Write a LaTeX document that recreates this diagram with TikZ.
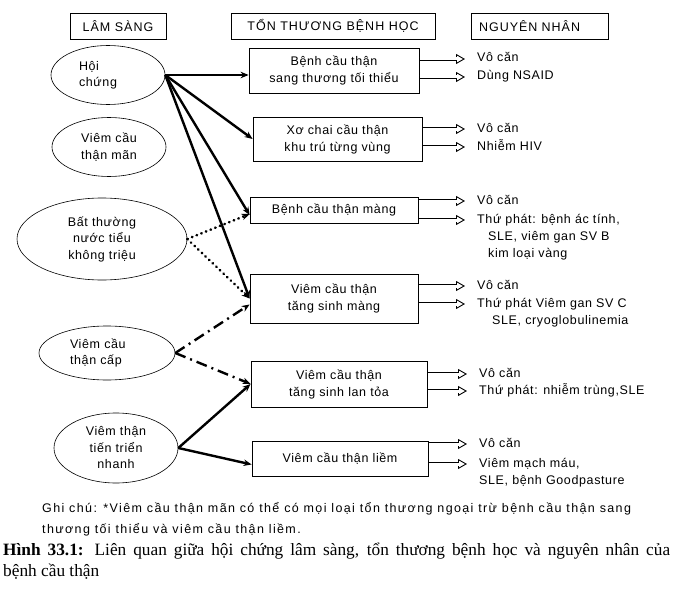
\documentclass[tikz,border=0pt]{standalone}
\usepackage{fontspec}
\setmainfont{Liberation Serif}
\newfontfamily\diagfont{Liberation Sans}[LetterSpace=5]
\newfontfamily\headfont{Liberation Sans}[LetterSpace=8]
\newfontfamily\notefont{Liberation Sans}[LetterSpace=11]
\usetikzlibrary{arrows.meta, positioning, shapes.geometric}

\begin{document}
\begin{tikzpicture}[x=1pt, y=-1pt,
	head/.style={rectangle, draw, line width=0.8pt, minimum height=26pt, inner sep=0pt, font=\headfont\fontsize{12.5}{14}\selectfont},
	syndrome/.style={ellipse, draw, line width=0.6pt, inner sep=0pt, align=center, font=\diagfont\fontsize{12.5}{16.5}\selectfont},
	lesion/.style={rectangle, draw, line width=0.8pt, inner sep=0pt, align=center, font=\diagfont\fontsize{12.5}{17}\selectfont},
	cause/.style={inner sep=0pt, anchor=west, text height=9pt, text depth=3pt, font=\diagfont\fontsize{12.5}{15}\selectfont},
	more/.style={cause, below=5pt of #1.south west, anchor=north west},
	arrow/.style={-{Stealth[length=8pt, width=6.5pt]}, line width=2.4pt},
	dotarrow/.style={arrow, line width=2.6pt, dash pattern=on 0.5pt off 4.5pt, line cap=round},
	dasharrow/.style={arrow, dash pattern=on 11pt off 5pt on 2pt off 5pt},
	hollow/.style={line width=0.9pt, -{Triangle[open, length=9pt, width=10pt]},
		preaction={draw, line width=4.8pt, -, shorten >=9pt},
		postaction={draw=white, line width=3pt, -, shorten >=8.5pt, shorten <=0.5pt}}
]
	\useasboundingbox (0,0) rectangle (675,594);

	\node[head, minimum width=96pt] (hls) at (118,26) {LÂM SÀNG};
	\node[head, minimum width=204pt] (hth) at (333,26) {TỔN THƯƠNG BỆNH HỌC};
	\node[head, minimum width=137pt, text width=121pt, align=left] (hnn) at (539.5,26) {NGUYÊN NHÂN};

	\node[syndrome, minimum width=114pt, minimum height=59pt, text width=58pt, align=left] (e1) at (108,75) {Hội\\chứng};
	\node[syndrome, minimum width=114pt, minimum height=59pt] (e2) at (109,147) {Viêm cầu\\thận mãn};
	\node[syndrome, minimum width=170pt, minimum height=82pt] (e3) at (102,239) {Bất thường\\nước tiểu\\không triệu};
	\node[syndrome, minimum width=136pt, minimum height=54pt, text width=74pt, align=left] (e4) at (107,353) {Viêm cầu\\thận cấp};
	\node[syndrome, minimum width=124pt, minimum height=70pt] (e5) at (116,448) {Viêm thận\\tiến triển\\nhanh};

	\node[lesion, minimum width=170pt, minimum height=45pt] (b1) at (334,70.5) {Bệnh cầu thận\\sang thương tối thiểu};
	\node[lesion, minimum width=169pt, minimum height=44pt] (b2) at (337.5,139) {Xơ chai cầu thận\\khu trú từng vùng};
	\node[lesion, minimum width=168pt, minimum height=26pt] (b3) at (334,210) {Bệnh cầu thận màng};
	\node[lesion, minimum width=168pt, minimum height=49pt] (b4) at (334,298.5) {Viêm cầu thận\\tăng sinh màng};
	\node[lesion, minimum width=176pt, minimum height=46pt] (b5) at (339,384) {Viêm cầu thận\\tăng sinh lan tỏa};
	\node[lesion, minimum width=176pt, minimum height=35pt] (b6) at (340,458.5) {Viêm cầu thận liềm};

	\node[cause] (c11) at (477,59) {Vô căn};
	\node[cause] (c12) at (477,77) {Dùng NSAID};
	\node[cause] (c21) at (477,129) {Vô căn};
	\node[cause] (c22) at (477,147) {Nhiễm HIV};
	\node[cause] (c31) at (477,201) {Vô căn};
	\node[cause] (c32) at (477,220) {Thứ phát: bệnh ác tính,};
	\node[more=c32, xshift=11pt] (c32b) {SLE, viêm gan SV B};
	\node[more=c32b] (c32c) {kim loại vàng};
	\node[cause] (c41) at (477,286) {Vô căn};
	\node[cause] (c42) at (477,304) {Thứ phát Viêm gan SV C};
	\node[more=c42, xshift=15pt] (c42b) {SLE, cryoglobulinemia};
	\node[cause] (c51) at (479,374) {Vô căn};
	\node[cause] (c52) at (479,391) {Thứ phát: nhiễm trùng,SLE};
	\node[cause] (c61) at (479,444) {Vô căn};
	\node[cause] (c62) at (479,464) {Viêm mạch máu,};
	\node[more=c62] (c62b) {SLE, bệnh Goodpasture};

	\draw[arrow] (e1.east) -- (e1.east -| b1.west);
	\draw[arrow] (e1.east) -- (b2.west);
	\draw[arrow] (e1.east) -- ([yshift=-5pt]b3.west);
	\draw[arrow] (e1.east) -- (b4.west);
	\draw[dotarrow] (e3.east) -- ([yshift=-4pt]b3.west);
	\draw[dotarrow] (e3.east) -- (b4.west);
	\draw[dasharrow] (e4.east) -- ([yshift=-6pt]b4.west);
	\draw[dasharrow] (e4.east) -- (b5.west);
	\draw[arrow] (e5.east) -- (b5.west);
	\draw[arrow] (e5.east) -- ([yshift=-6pt]b6.west);

	\foreach \b/\c in {b1/c11, b1/c12, b2/c21, b2/c22, b3/c31, b3/c32, b4/c41, b4/c42, b5/c51, b5/c52, b6/c61, b6/c62}
		\draw[hollow] (\b.east |- \c) -- ([xshift=-12pt]\c.west);

	\node[anchor=west, inner sep=0pt, align=left, font=\notefont\fontsize{12.5}{21}\selectfont] (note) at (42,519) {Ghi chú: *Viêm cầu thận mãn có thể có mọi loại tổn thương ngoại trừ bệnh cầu thận sang\\thương tối thiểu và viêm cầu thận liềm.};
	\node[anchor=north west, inner sep=0pt, text width=667pt, align=justify, font=\fontsize{17.3}{21}\selectfont] (caption) at (3,543) {\textbf{Hình 33.1:} Liên quan giữa hội chứng lâm sàng, tổn thương bệnh học và nguyên nhân của\linebreak bệnh cầu thận};
\end{tikzpicture}
\end{document}
